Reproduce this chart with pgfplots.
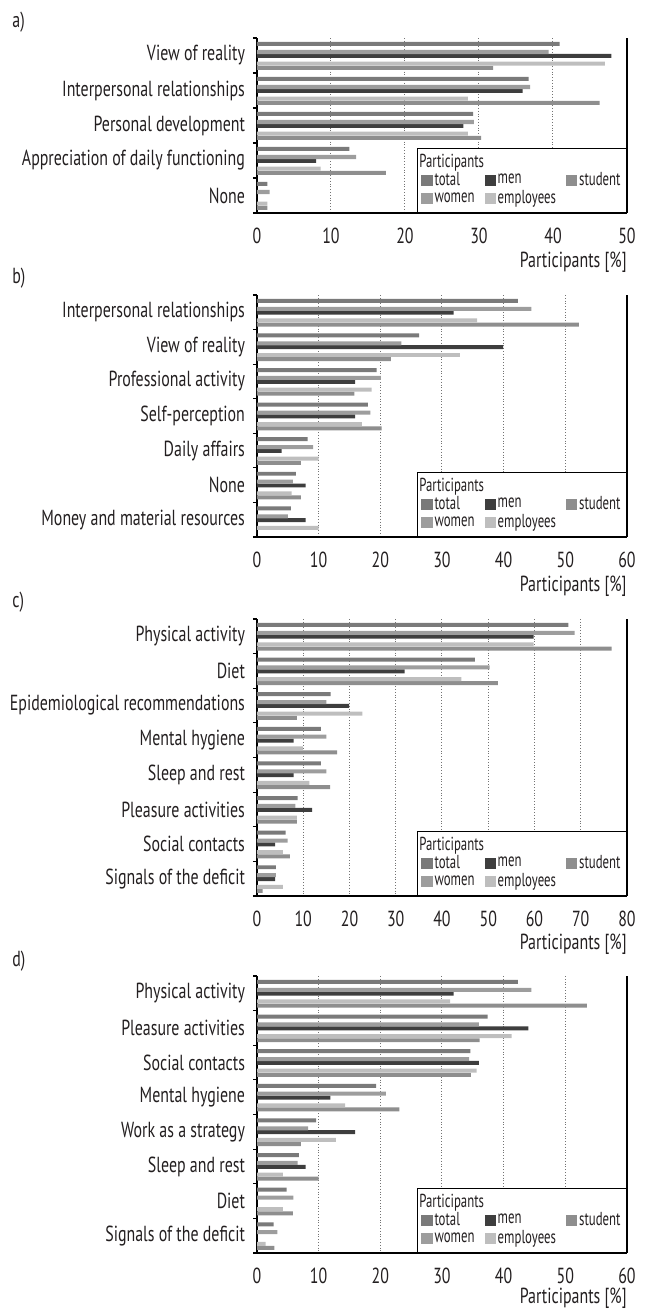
\documentclass[border=0pt]{standalone}
\usepackage{fontspec}
\setmainfont{PT Sans}[FakeStretch=0.73]
\newfontfamily\legfam{PT Sans}[FakeStretch=0.68]
\usepackage{pgfplots}
\pgfplotsset{compat=1.18}
\definecolor{ctotal}{HTML}{7A7A7A}
\definecolor{cwomen}{HTML}{9D9D9D}
\definecolor{cmen}{HTML}{3E3E3E}
\definecolor{cemp}{HTML}{BEBEBE}
\definecolor{cstud}{HTML}{8E8E8E}
\definecolor{txt}{HTML}{231F20}
\newcommand{\lblfont}{\fontsize{10.9}{12}\selectfont}
\newcommand{\legfont}{\legfam\fontsize{9.4}{10}\selectfont}
\pgfplotsset{
  panel/.style={
    xbar, scale only axis, width=185pt, anchor=north west,
    y dir=reverse, xmin=0,
    axis x line=bottom, axis y line=box,
    axis line style={-, black, line width=0.6pt},
    bar width=0.115,
    major tick length=0pt, minor tick length=2pt, tick align=outside,
    ytick pos=left, xtick pos=bottom,
    minor tick style={black, line width=0.6pt},
    xmajorgrids, grid style={densely dotted, black!55, line width=0.5pt},
    tick label style={font=\lblfont, text=txt},
    /pgf/number format/assume math mode=true,
    xticklabel style={yshift=-4pt},
    yticklabel style={xshift=-2.5pt},
    xlabel={Participants [\%]},
    xlabel style={at={(rel axis cs:1,0)}, anchor=base east, yshift=-27pt, inner sep=0pt, font=\lblfont, text=txt},
    legend columns=3,
    legend style={at={(rel axis cs:1,0)}, anchor=south east, draw=black, line width=0.5pt,
      fill=white, font=\legfont, text=txt, inner xsep=2pt, inner ysep=2pt,
      nodes={inner xsep=1pt, inner ysep=0.8pt},
      row sep=-0.6pt,
      /tikz/every even column/.append style={column sep=4pt}},
    legend cell align=left,
  },
  stotal/.style={fill=ctotal, draw=none, bar shift=-0.33,
    legend image code/.code={\fill[ctotal] (0pt,-2.7pt) rectangle (5.6pt,2.7pt);}},
  swomen/.style={fill=cwomen, draw=none, bar shift=-0.10,
    legend image code/.code={\fill[cwomen] (0pt,-2.7pt) rectangle (5.6pt,2.7pt);}},
  smen/.style={fill=cmen, draw=none, bar shift=0.01,
    legend image code/.code={\fill[cmen] (0pt,-2.7pt) rectangle (5.6pt,2.7pt);}},
  semp/.style={fill=cemp, draw=none, bar shift=0.235,
    legend image code/.code={\fill[cemp] (0pt,-2.7pt) rectangle (5.6pt,2.7pt);}},
  sstud/.style={fill=cstud, draw=none, bar shift=0.355,
    legend image code/.code={\fill[cstud] (0pt,-2.7pt) rectangle (5.6pt,2.7pt);}},
}
\newcommand{\legtitle}{%
  \addlegendimage{empty legend}\addlegendentry{\makebox[0pt][l]{\hspace*{-7.6pt}Participants}}
  \addlegendimage{empty legend}\addlegendentry{}
  \addlegendimage{empty legend}\addlegendentry{}
}
\begin{document}
\begin{tikzpicture}
\useasboundingbox (0,0) rectangle (322pt,-656pt);
% ---------------- a)
\node[anchor=base west, inner sep=0pt, font=\lblfont, text=txt] at (6pt,-13.5pt) {a)};
\begin{axis}[panel, at={(128.5pt,-19pt)}, height=87.5pt,
  xmax=50, xtick={0,10,...,50},
  ymin=-0.5, ymax=4.5, ytick={0,...,4},
  minor ytick={-0.5,0.5,...,4.5},
  yticklabels={View of reality, Interpersonal relationships, Personal development, Appreciation of daily functioning, None}]
\legtitle
\addplot[stotal] coordinates {(40.9,0) (36.7,1) (29.2,2) (12.5,3) (1.4,4)};
\addlegendentry{total}
\addplot[smen] coordinates {(47.9,0) (35.9,1) (27.9,2) (8.0,3) (0,4)};
\addlegendentry{men}
\addplot[sstud] coordinates {(31.9,0) (46.3,1) (30.3,2) (17.4,3) (1.4,4)};
\addlegendentry{student}
\addplot[swomen] coordinates {(39.4,0) (36.9,1) (29.3,2) (13.4,3) (1.7,4)};
\addlegendentry{women}
\addplot[semp] coordinates {(47.0,0) (28.5,1) (28.5,2) (8.6,3) (1.4,4)};
\addlegendentry{employees}
\end{axis}
% ---------------- b)
\node[anchor=base west, inner sep=0pt, font=\lblfont, text=txt] at (6pt,-141.5pt) {b)};
\begin{axis}[panel, at={(128.5pt,-147.5pt)}, height=121pt,
  xmax=60, xtick={0,10,...,60},
  ymin=-0.5, ymax=6.5, ytick={0,...,6},
  minor ytick={-0.5,0.5,...,6.5},
  yticklabels={Interpersonal relationships, View of reality, Professional activity, Self-perception, Daily affairs, None, Money and material resources}]
\legtitle
\addplot[stotal] coordinates {(42.3,0) (26.3,1) (19.4,2) (18.0,3) (8.2,4) (6.3,5) (5.5,6)};
\addlegendentry{total}
\addplot[smen] coordinates {(31.9,0) (39.9,1) (15.9,2) (15.9,3) (4.0,4) (7.9,5) (7.9,6)};
\addlegendentry{men}
\addplot[sstud] coordinates {(52.2,0) (21.7,1) (15.8,2) (20.2,3) (7.1,4) (7.1,5) (0,6)};
\addlegendentry{student}
\addplot[swomen] coordinates {(44.5,0) (23.4,1) (20.1,2) (18.4,3) (9.1,4) (5.8,5) (5.0,6)};
\addlegendentry{women}
\addplot[semp] coordinates {(35.7,0) (32.9,1) (18.6,2) (17.0,3) (10.0,4) (5.6,5) (10.0,6)};
\addlegendentry{employees}
\end{axis}
% ---------------- c)
\node[anchor=base west, inner sep=0pt, font=\lblfont, text=txt] at (6pt,-303.5pt) {c)};
\begin{axis}[panel, at={(128.5pt,-309.5pt)}, height=138.5pt,
  xmax=80, xtick={0,10,...,80},
  ymin=-0.5, ymax=7.5, ytick={0,...,7},
  minor ytick={-0.5,0.5,...,7.5},
  yticklabels={Physical activity, Diet, Epidemiological recommendations, Mental hygiene, Sleep and rest, Pleasure activities, Social contacts, Signals of the deficit}]
\legtitle
\addplot[stotal] coordinates {(67.3,0) (47.1,1) (15.9,2) (13.8,3) (13.8,4) (8.8,5) (6.2,6) (4.1,7)};
\addlegendentry{total}
\addplot[smen] coordinates {(59.8,0) (31.9,1) (19.9,2) (7.9,3) (7.9,4) (11.9,5) (3.9,6) (3.9,7)};
\addlegendentry{men}
\addplot[sstud] coordinates {(76.7,0) (52.1,1) (8.6,2) (17.3,3) (15.8,4) (8.6,5) (7.1,6) (1.2,7)};
\addlegendentry{student}
\addplot[swomen] coordinates {(68.7,0) (50.3,1) (15.0,2) (15.0,3) (15.0,4) (8.3,5) (6.6,6) (4.1,7)};
\addlegendentry{women}
\addplot[semp] coordinates {(59.8,0) (44.2,1) (22.8,2) (9.9,3) (11.3,4) (8.6,5) (5.6,6) (5.6,7)};
\addlegendentry{employees}
\end{axis}
% ---------------- d)
\node[anchor=base west, inner sep=0pt, font=\lblfont, text=txt] at (6pt,-483pt) {d)};
\begin{axis}[panel, at={(128.5pt,-488pt)}, height=138.5pt,
  xlabel style={yshift=1.8pt},
  xmax=60, xtick={0,10,...,60},
  ymin=-0.5, ymax=7.5, ytick={0,...,7},
  minor ytick={-0.5,0.5,...,7.5},
  yticklabels={Physical activity, Pleasure activities, Social contacts, Mental hygiene, Work as a strategy, Sleep and rest, Diet, Signals of the deficit}]
\legtitle
\addplot[stotal] coordinates {(42.3,0) (37.4,1) (34.6,2) (19.3,3) (9.6,4) (6.8,5) (4.8,6) (2.7,7)};
\addlegendentry{total}
\addplot[smen] coordinates {(31.9,0) (44.0,1) (36.0,2) (11.9,3) (15.9,4) (7.9,5) (0,6) (0,7)};
\addlegendentry{men}
\addplot[sstud] coordinates {(53.5,0) (36.1,1) (34.7,2) (23.1,3) (7.1,4) (10.0,5) (5.8,6) (2.8,7)};
\addlegendentry{student}
\addplot[swomen] coordinates {(44.5,0) (36.0,1) (34.4,2) (20.9,3) (8.3,4) (6.6,5) (5.9,6) (3.3,7)};
\addlegendentry{women}
\addplot[semp] coordinates {(31.3,0) (41.3,1) (35.6,2) (14.3,3) (12.8,4) (4.2,5) (4.2,6) (1.4,7)};
\addlegendentry{employees}
\end{axis}
\end{tikzpicture}
\end{document}
